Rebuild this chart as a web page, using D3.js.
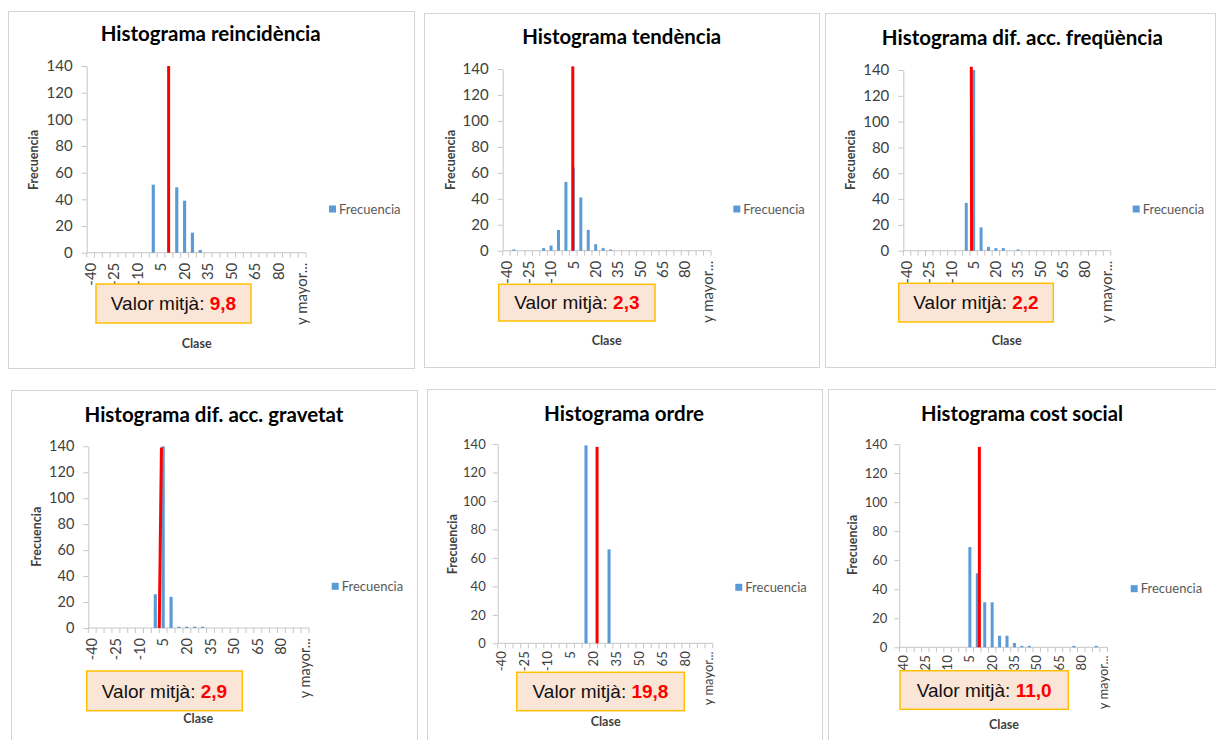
<!DOCTYPE html>
<html>
<head>
<meta charset="utf-8">
<script src="https://cdn.jsdelivr.net/npm/d3@7"></script>
<style>
  body { margin: 0; background: #fff; }
  svg { display: block; }
</style>
</head>
<body>
<div id="chart"></div>
<script>
// histogram classes (Excel bins) and the labels Excel shows on the axis
const categories = ["-40","-35","-30","-25","-20","-15","-10","-5","0","5","10","15","20","25",
                    "30","35","40","45","50","55","60","65","70","75","80","85","90","y mayor..."];
const tickLabels = ["-40","-25","-10","5","20","35","50","65","80","y mayor..."];
const yTicks = [0, 20, 40, 60, 80, 100, 120, 140];

const titles = ["Histograma reincidència", "Histograma tendència", "Histograma dif. acc. freqüència",
                "Histograma dif. acc. gravetat", "Histograma ordre", "Histograma cost social"];
const meanLabels = ["9,8", "2,3", "2,2", "2,9", "19,8", "11,0"];

// frequencies per class
const reincidencia = [0,0,0,0,0,0,0,0,51,0,0,49,39,15,2,0,0,0,0,0,0,0,0,0,0,0,0,0];
const tendencia    = [0,1,0,0,0,2,4,16,53,64,41,16,5,2,1,0,0,0,0,0,0,0,0,0,0,0,0,0];
const freqAcc      = [0,0,0,0,0,0,0,0,37,140,18,3,2,2,0,1,0,0,0,0,0,0,0,0,0,0,0,0];
const gravetatAcc  = [0,0,0,0,0,0,0,0,26,140,24,1,1,1,1,0,0,0,0,0,0,0,0,0,0,0,0,0];
const ordre        = [0,0,0,0,0,0,0,0,0,0,0,139,0,0,66,0,0,0,0,0,0,0,0,0,0,0,0,0];
const costSocial   = [0,0,0,0,0,0,0,0,0,69,51,31,31,8,8,3,1,1,0,0,0,0,0,1,0,0,1,0];
const series = [reincidencia, tendencia, freqAcc, gravetatAcc, ordre, costSocial];

// red marker line: class value at its foot, at its top, and its height
const lineFoot = [9.8, 4.6, 3.6, 2.5, 22.2, 11.4];
const lineHead = [9.8, 4.6, 3.4, 3.9, 22.2, 11.4];
const lineTop  = [140, 142, 142.5, 139, 138, 138];

// layout of each chart box (pixels)
const layout = [
  {box:[8,11,406,357],  plot:[86.7,306,66,252.7],    title:[210.7,41.3,220],  legend:[329,209],    ann:[96,284,155,39],     ylab:[34.3,160],  xlab:[196.7,348],  font:15,   pad:9, xgap:10},
  {box:[424,13,395,354],plot:[502.7,711,69,250.7],   title:[621.7,43.7,199],  legend:[733.3,209],  ann:[498.7,284.3,156.3,36.7], ylab:[450.7,160], xlab:[606.7,345], font:15, pad:9, xgap:10},
  {box:[825,13,390,354],plot:[903.3,1110.7,70,250.7],title:[1022.3,45,281],   legend:[1132.7,209], ann:[898.7,283.3,154.6,38.7], ylab:[851,160],  xlab:[1006.7,345], font:15, pad:9, xgap:10},
  {box:[11,390,406,360],plot:[88.3,309,446.3,628],   title:[214,421.7,259],   legend:[331.7,586.3],ann:[86.7,671,155.6,39.7],ylab:[36.7,536.7],xlab:[198.3,723],  font:14.5, pad:9, xgap:10},
  {box:[427,389,395,360],plot:[497.7,712.7,444,643.3],title:[624,421,160],    legend:[735.3,587.3],ann:[516.7,672.3,167.6,38.4],ylab:[453.3,544.3],xlab:[605.7,726],font:13,pad:7, xgap:8},
  {box:[828,389,400,360],plot:[899.3,1107.3,444,647.3],title:[1022,421,202],  legend:[1130.7,588.7],ann:[900,670.7,168.3,38.6],ylab:[853.3,545], xlab:[1004,729],  font:13,   pad:7, xgap:8}
];

const barColor = '#5b9bd5';
const axisColor = '#c6c6c6';
const labelColor = '#404040';

const svg = d3.select('#chart').append('svg').attr('width', 1216).attr('height', 740);

layout.forEach((p, k) => drawPanel(p, k));

function drawPanel(p, k) {
  const g = svg.append('g');
  const values = series[k];

  g.append('rect')
    .attr('x', p.box[0] + 0.5).attr('y', p.box[1] + 0.5)
    .attr('width', p.box[2]).attr('height', p.box[3])
    .attr('fill', '#fff').attr('stroke', '#d4d4d4');

  const x = d3.scaleBand().domain(categories).range([p.plot[0], p.plot[1]]);
  const y = d3.scaleLinear().domain([0, 140]).range([p.plot[3], p.plot[2]]);
  const half = x.bandwidth() / 2;
  const xv = d3.scaleLinear().domain([-40, 95])
    .range([x(categories[0]) + half, x(categories[categories.length - 1]) + half]);

  // title
  g.append('text')
    .attr('x', p.title[0]).attr('y', p.title[1])
    .attr('text-anchor', 'middle')
    .attr('textLength', p.title[2]).attr('lengthAdjust', 'spacingAndGlyphs')
    .style('font-family', 'Lato, sans-serif').style('font-weight', 700).style('font-size', '20px')
    .attr('fill', '#000')
    .text(titles[k]);

  // y axis
  const gy = g.append('g')
    .attr('transform', `translate(${p.plot[0]},0)`)
    .call(d3.axisLeft(y).tickValues(yTicks).tickSize(5).tickPadding(p.pad).tickSizeOuter(0));
  gy.select('.domain').attr('stroke', axisColor);
  gy.selectAll('.tick line').attr('stroke', axisColor);
  gy.selectAll('.tick text')
    .attr('fill', labelColor)
    .style('font-family', 'Lato, sans-serif').style('font-size', p.font + 'px');

  // x axis: labels on every third class, tick marks between classes
  const gx = g.append('g')
    .attr('transform', `translate(0,${p.plot[3]})`)
    .call(d3.axisBottom(x).tickValues(tickLabels).tickSize(0));
  gx.select('.domain').remove();
  gx.selectAll('.tick text')
    .attr('transform', 'rotate(-90)')
    .attr('x', -p.xgap).attr('y', 0).attr('dy', '0.35em')
    .attr('text-anchor', 'end')
    .attr('fill', labelColor)
    .style('font-family', 'Lato, sans-serif').style('font-size', p.font + 'px');

  const bounds = categories.map(c => x(c)).concat([x.range()[1]]);
  g.append('line')
    .attr('x1', x.range()[0]).attr('x2', x.range()[1])
    .attr('y1', y(0)).attr('y2', y(0))
    .attr('stroke', axisColor);
  g.selectAll('line.xt').data(bounds).enter().append('line')
    .attr('class', 'xt')
    .attr('x1', d => d).attr('x2', d => d)
    .attr('y1', y(0)).attr('y2', y(0) + 5)
    .attr('stroke', axisColor);

  // bars
  const bw = x.bandwidth() * 0.4;
  g.selectAll('rect.bar')
    .data(values.map((v, i) => ({cat: categories[i], v})).filter(d => d.v > 0))
    .enter().append('rect')
    .attr('class', 'bar')
    .attr('x', d => x(d.cat) + half - bw / 2)
    .attr('width', bw)
    .attr('y', d => y(d.v))
    .attr('height', d => y(0) - y(d.v))
    .attr('fill', barColor);

  // red marker
  g.append('line')
    .attr('x1', xv(lineFoot[k])).attr('y1', y(0))
    .attr('x2', xv(lineHead[k])).attr('y2', y(lineTop[k]))
    .attr('stroke', '#ff0000').attr('stroke-width', 3);

  // axis titles
  g.append('text')
    .attr('transform', `translate(${p.ylab[0] + 4},${p.ylab[1]}) rotate(-90)`)
    .attr('text-anchor', 'middle')
    .style('font-family', 'Lato, sans-serif').style('font-weight', 700).style('font-size', '12.5px')
    .attr('fill', '#404040')
    .text('Frecuencia');
  g.append('text')
    .attr('x', p.xlab[0]).attr('y', p.xlab[1])
    .attr('text-anchor', 'middle')
    .style('font-family', 'Lato, sans-serif').style('font-weight', 700).style('font-size', '12.5px')
    .attr('fill', '#404040')
    .text('Clase');

  // legend
  g.append('rect')
    .attr('x', p.legend[0]).attr('y', p.legend[1] - 3.5)
    .attr('width', 7).attr('height', 7)
    .attr('fill', barColor);
  g.append('text')
    .attr('x', p.legend[0] + 10).attr('y', p.legend[1] + 4.5)
    .style('font-family', 'Lato, sans-serif').style('font-size', '13px')
    .attr('fill', '#595959')
    .text('Frecuencia');

  // mean box
  g.append('rect')
    .attr('x', p.ann[0]).attr('y', p.ann[1])
    .attr('width', p.ann[2]).attr('height', p.ann[3])
    .attr('fill', '#fbe5d6').attr('stroke', '#ffc000').attr('stroke-width', 1.5);
  const t = g.append('text')
    .attr('x', p.ann[0] + p.ann[2] / 2)
    .attr('y', p.ann[1] + p.ann[3] / 2 + 6.8)
    .attr('text-anchor', 'middle')
    .style('font-family', '"Liberation Sans", Arial, sans-serif').style('font-size', '19px');
  t.append('tspan').attr('fill', '#111').text('Valor mitjà: ');
  t.append('tspan').attr('fill', '#ff0000').style('font-weight', 700).text(meanLabels[k]);
}
</script>
</body>
</html>
